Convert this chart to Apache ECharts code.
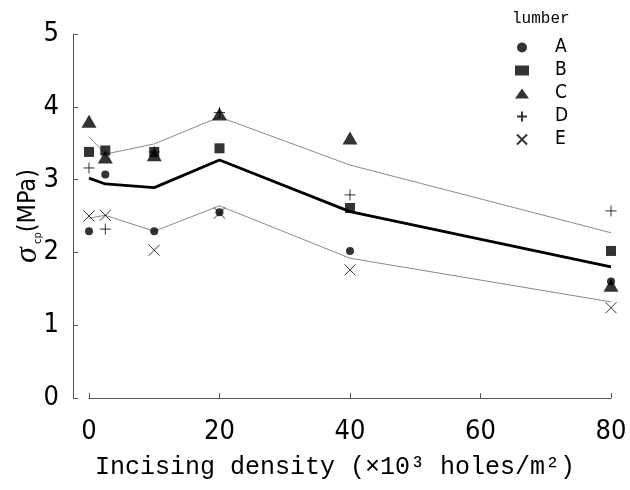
<!DOCTYPE html>
<html>
<head>
<meta charset="utf-8">
<script src="https://cdn.jsdelivr.net/npm/echarts@6/dist/echarts.min.js"></script>
<style>html,body{margin:0;padding:0;background:#fff;}#c{width:630px;height:490px;}</style>
</head>
<body>
<div id="c"></div>
<script>
var densities = [0, 2.5, 10, 20, 40, 80];
var lumberA = [2.29, 3.07, 2.29, 2.55, 2.02, 1.60];
var lumberB = [3.38, 3.40, 3.38, 3.43, 2.61, 2.02];
var lumberC = [3.80, 3.31, 3.34, 3.90, 3.57, 1.55];
var lumberD = [3.16, 2.32, 3.38, 3.92, 2.79, 2.57];
var lumberE = [2.50, 2.51, 2.03, 2.54, 1.76, 1.24];
var meanLine = [3.02, 2.94, 2.89, 3.27, 2.56, 1.80];
var upperLine = [3.59, 3.35, 3.49, 3.86, 3.20, 2.27];
var lowerLine = [2.47, 2.51, 2.29, 2.64, 1.92, 1.32];
var legendNames = ['A', 'B', 'C', 'D', 'E'];

function pairs(vals) { return densities.map(function (x, i) { return [x, vals[i]]; }); }

var plusPath = 'path://M0,5L10,5M5,0L5,10';
var crossPath = 'path://M0,0L10,10M10,0L0,10';
var axisColor = '#555';
var narrow = '"Liberation Sans Narrow", "DejaVu Sans Condensed", "Roboto Condensed", "Liberation Sans", sans-serif';
var mono = '"Liberation Mono", "DejaVu Sans Mono", monospace';

var chart = echarts.init(document.getElementById('c'));
chart.setOption({
  animation: false,
  backgroundColor: '#fff',
  title: {
    text: 'lumber', left: 507, top: 6,
    textStyle: { fontFamily: mono, fontSize: 16, fontWeight: 'normal', color: '#000' }
  },
  legend: {
    data: legendNames, orient: 'vertical', left: 510, top: 31,
    itemWidth: 14, itemHeight: 10, itemGap: 0,
    textStyle: { fontFamily: narrow, fontSize: 19, color: '#000', lineHeight: 23, padding: [0, 0, 0, 21] }
  },
  grid: { left: 89, right: 19, top: 34, bottom: 92, outerBoundsMode: 'none', containLabel: false },
  xAxis: {
    type: 'value', min: 0, max: 80, interval: 20,
    name: 'Incising density (×10³ holes/m²)', nameLocation: 'middle', nameGap: 57,
    nameMoveOverlap: false,
    nameTextStyle: { fontFamily: mono, fontSize: 25, color: '#000', padding: [0, 30, 0, 0] },
    axisLine: { show: true, lineStyle: { color: axisColor, width: 1 } },
    axisTick: { show: true, inside: true, length: 5, lineStyle: { color: axisColor } },
    axisLabel: { fontFamily: narrow, fontSize: 27, color: '#000', margin: 20 },
    splitLine: { show: false }
  },
  yAxis: {
    type: 'value', min: 0, max: 5, interval: 1, offset: 16,
    name: '{s|σ}{sub| cp}{t|(MPa)}', nameLocation: 'middle', nameRotate: 90, nameGap: 29,
    nameMoveOverlap: false,
    nameTextStyle: {
      color: '#000',
      rich: {
        s: { fontFamily: '"Liberation Serif", serif', fontStyle: 'italic', fontSize: 32, color: '#000' },
        sub: { fontFamily: narrow, fontSize: 11, color: '#000', verticalAlign: 'bottom', padding: [12, 0, 0, 0] },
        t: { fontFamily: narrow, fontSize: 25, color: '#000' }
      }
    },
    axisLine: { show: true, onZero: false, lineStyle: { color: axisColor, width: 1 } },
    axisTick: { show: true, inside: true, length: 5, lineStyle: { color: axisColor } },
    axisLabel: { fontFamily: narrow, fontSize: 27, color: '#000', margin: 14 },
    splitLine: { show: false }
  },
  series: [
    { name: 'upper', type: 'line', data: pairs(upperLine), showSymbol: false, symbol: 'none',
      lineStyle: { color: '#8a8a8a', width: 1 }, z: 1 },
    { name: 'lower', type: 'line', data: pairs(lowerLine), showSymbol: false, symbol: 'none',
      lineStyle: { color: '#8a8a8a', width: 1 }, z: 1 },
    { name: 'mean', type: 'line', data: pairs(meanLine), showSymbol: false, symbol: 'none',
      lineStyle: { color: '#000', width: 2.8 }, z: 2 },
    { name: 'A', type: 'scatter', data: pairs(lumberA), symbol: 'circle', symbolSize: 8,
      itemStyle: { color: '#000' }, z: 3 },
    { name: 'B', type: 'scatter', data: pairs(lumberB), symbol: 'rect', symbolSize: 10,
      itemStyle: { color: '#000' }, z: 3 },
    { name: 'C', type: 'scatter', data: pairs(lumberC), symbol: 'triangle', symbolSize: [15, 13],
      itemStyle: { color: '#000' }, z: 3 },
    { name: 'D', type: 'scatter', data: pairs(lumberD), symbol: plusPath, symbolSize: 11,
      itemStyle: { color: 'rgba(0,0,0,0)', borderColor: '#000', borderWidth: 1 }, z: 3 },
    { name: 'E', type: 'scatter', data: pairs(lumberE), symbol: crossPath, symbolSize: 11,
      itemStyle: { color: 'rgba(0,0,0,0)', borderColor: '#000', borderWidth: 1 }, z: 3 }
  ]
});
</script>
</body>
</html>
